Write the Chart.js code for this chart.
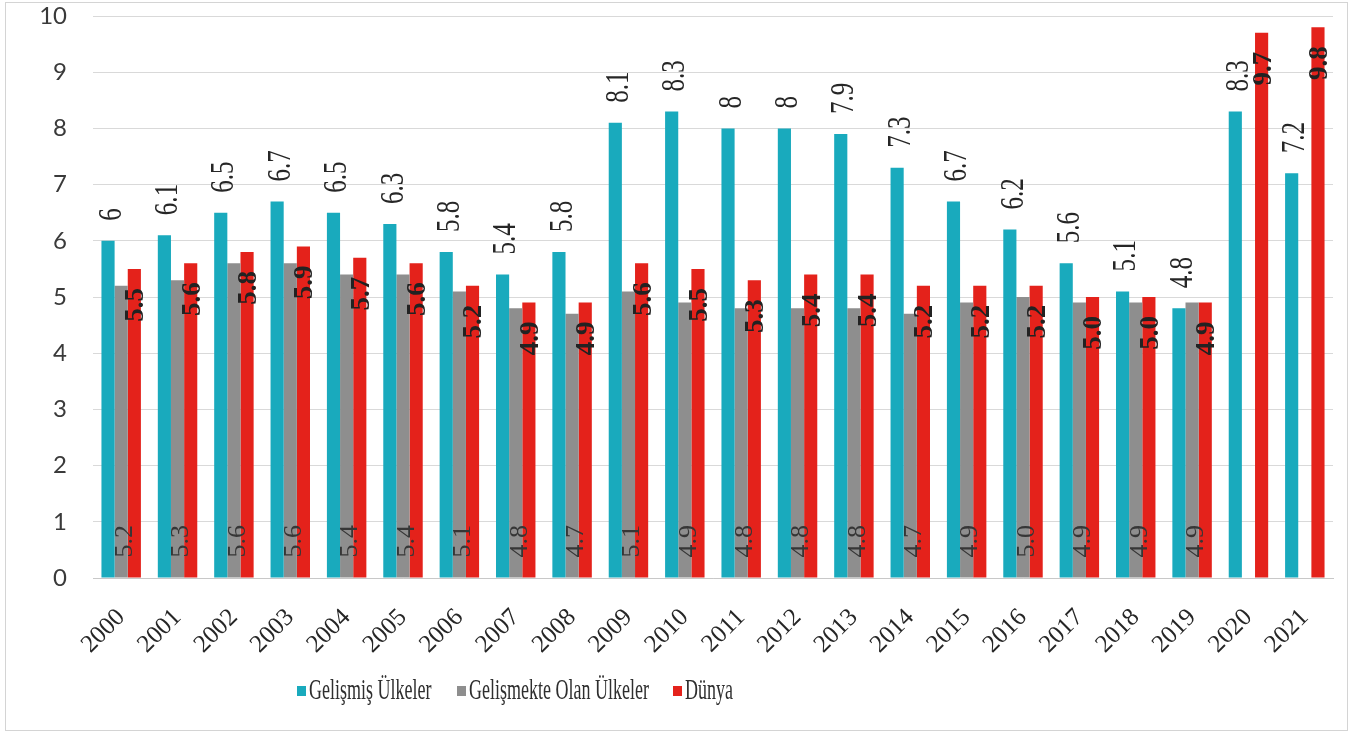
<!DOCTYPE html>
<html>
<head>
<meta charset="utf-8">
<script src="https://cdn.jsdelivr.net/npm/chart.js@4.4.0/dist/chart.umd.min.js"></script>
<style>
    body { margin: 0; background: #fff; }
    #wrap { position: relative; width: 1353px; height: 733px; }
    #frame { position: absolute; left: 5px; top: 2px; width: 1341px; height: 727px; border: 1px solid #d4d4d4; pointer-events: none; }
    .leg-box { position: absolute; width: 9px; height: 10px; }
    .leg-txt { position: absolute; font: 30px "Liberation Serif", serif; color: #2e2e2e; white-space: nowrap; transform: scaleX(0.6); transform-origin: left top; line-height: 1; }
</style>
</head>
<body>
<div id="wrap">
    <canvas id="chart"></canvas>
    <div id="frame"></div>
    <div id="legend"></div>
</div>
<script>
// --- DATA ---
const years = ['2000', '2001', '2002', '2003', '2004', '2005', '2006', '2007', '2008', '2009', '2010',
    '2011', '2012', '2013', '2014', '2015', '2016', '2017', '2018', '2019', '2020', '2021'];
const gelismis = [6, 6.1, 6.5, 6.7, 6.5, 6.3, 5.8, 5.4, 5.8, 8.1, 8.3, 8, 8, 7.9, 7.3, 6.7, 6.2, 5.6, 5.1, 4.8, 8.3, 7.2];
const gelismekte = [5.2, 5.3, 5.6, 5.6, 5.4, 5.4, 5.1, 4.8, 4.7, 5.1, 4.9, 4.8, 4.8, 4.8, 4.7, 4.9, 5.0, 4.9, 4.9, 4.9, null, null];
const dunya = [5.5, 5.6, 5.8, 5.9, 5.7, 5.6, 5.2, 4.9, 4.9, 5.6, 5.5, 5.3, 5.4, 5.4, 5.2, 5.2, 5.2, 5.0, 5.0, 4.9, 9.7, 9.8];
const yTicks = [0, 1, 2, 3, 4, 5, 6, 7, 8, 9, 10];

const seriesNames = ['Gelişmiş Ülkeler', 'Gelişmekte Olan Ülkeler', 'Dünya'];
const seriesColors = ['#19aabd', '#8e8e8e', '#e4221b'];

// --- VALUE LABELS (drawn on top of bars) ---
const valueLabels = {
    id: 'valueLabels',
    afterDatasetsDraw(chart) {
        const ctx = chart.ctx;
        chart.data.datasets.forEach((ds, i) => {
            const meta = chart.getDatasetMeta(i);
            meta.data.forEach((bar, j) => {
                const v = ds.data[j];
                if (v === null || v === undefined) return;
                ctx.save();
                ctx.textBaseline = 'middle';
                if (i === 0) {
                    // above the bar, reading upward
                    ctx.font = '33px "Liberation Serif", serif';
                    ctx.fillStyle = '#262626';
                    ctx.textAlign = 'left';
                    ctx.translate(bar.x + 4, bar.y - 20);
                    ctx.rotate(-Math.PI / 2);
                    ctx.scale(0.76, 1);
                    ctx.fillText(String(v), 0, 0);
                } else if (i === 1) {
                    // near the base, reading upward
                    ctx.font = '26px "Liberation Serif", serif';
                    ctx.fillStyle = '#363636';
                    ctx.textAlign = 'left';
                    ctx.translate(bar.x + 4, bar.base - 20);
                    ctx.rotate(-Math.PI / 2);
                    ctx.fillText(v.toFixed(1), 0, 0);
                } else {
                    // inside the top of the bar, reading upward
                    ctx.font = 'bold 27px "Liberation Serif", serif';
                    ctx.fillStyle = '#222';
                    ctx.textAlign = 'right';
                    ctx.translate(bar.x + 2, bar.y + 19);
                    ctx.rotate(-Math.PI / 2);
                    ctx.fillText(v.toFixed(1), 0, 0);
                }
                ctx.restore();
            });
        });
    }
};

const ctx = document.getElementById('chart').getContext('2d');
const chart = new Chart(ctx, {
    type: 'bar',
    data: {
        labels: years,
        datasets: [gelismis, gelismekte, dunya].map((d, i) => ({
            label: seriesNames[i],
            data: d,
            backgroundColor: seriesColors[i],
            borderWidth: 0,
            categoryPercentage: 0.7,
            barPercentage: 1.0
        }))
    },
    options: {
        responsive: true,
        maintainAspectRatio: false,
        animation: false,
        layout: { padding: { top: 16, right: 20, left: 0, bottom: 0 } },
        scales: {
            x: {
                grid: { display: false, drawTicks: false },
                border: { display: true, color: '#c8c8c8' },
                ticks: {
                    autoSkip: false,
                    minRotation: 45,
                    maxRotation: 45,
                    padding: 25,
                    color: '#262626',
                    font: { family: '"Liberation Serif", serif', size: 25 }
                },
                afterFit: (scale) => { scale.height = 155; scale.paddingLeft = 0; scale.paddingRight = 0; }
            },
            y: {
                min: 0,
                max: 10,
                afterBuildTicks: (scale) => { scale.ticks = yTicks.map(v => ({ value: v })); },
                grid: { color: '#d9d9d9', drawTicks: false },
                border: { display: false },
                ticks: {
                    padding: 26,
                    color: '#3a3a3a',
                    font: { family: 'Lato, sans-serif', size: 24 }
                },
                afterFit: (scale) => { scale.width = 93; scale.paddingTop = 0; scale.paddingBottom = 0; }
            }
        },
        plugins: {
            legend: { display: false },
            tooltip: { enabled: false }
        }
    },
    plugins: [valueLabels]
});

// --- LEGEND ---
const legend = document.getElementById('legend');
const legendPos = [297, 457, 673];
seriesNames.forEach((name, i) => {
    const box = document.createElement('div');
    box.className = 'leg-box';
    box.style.left = legendPos[i] + 'px';
    box.style.top = '686px';
    box.style.background = seriesColors[i];
    legend.appendChild(box);

    const txt = document.createElement('div');
    txt.className = 'leg-txt';
    txt.style.left = (legendPos[i] + 12) + 'px';
    txt.style.top = '674px';
    txt.textContent = name;
    legend.appendChild(txt);
});
</script>
</body>
</html>
